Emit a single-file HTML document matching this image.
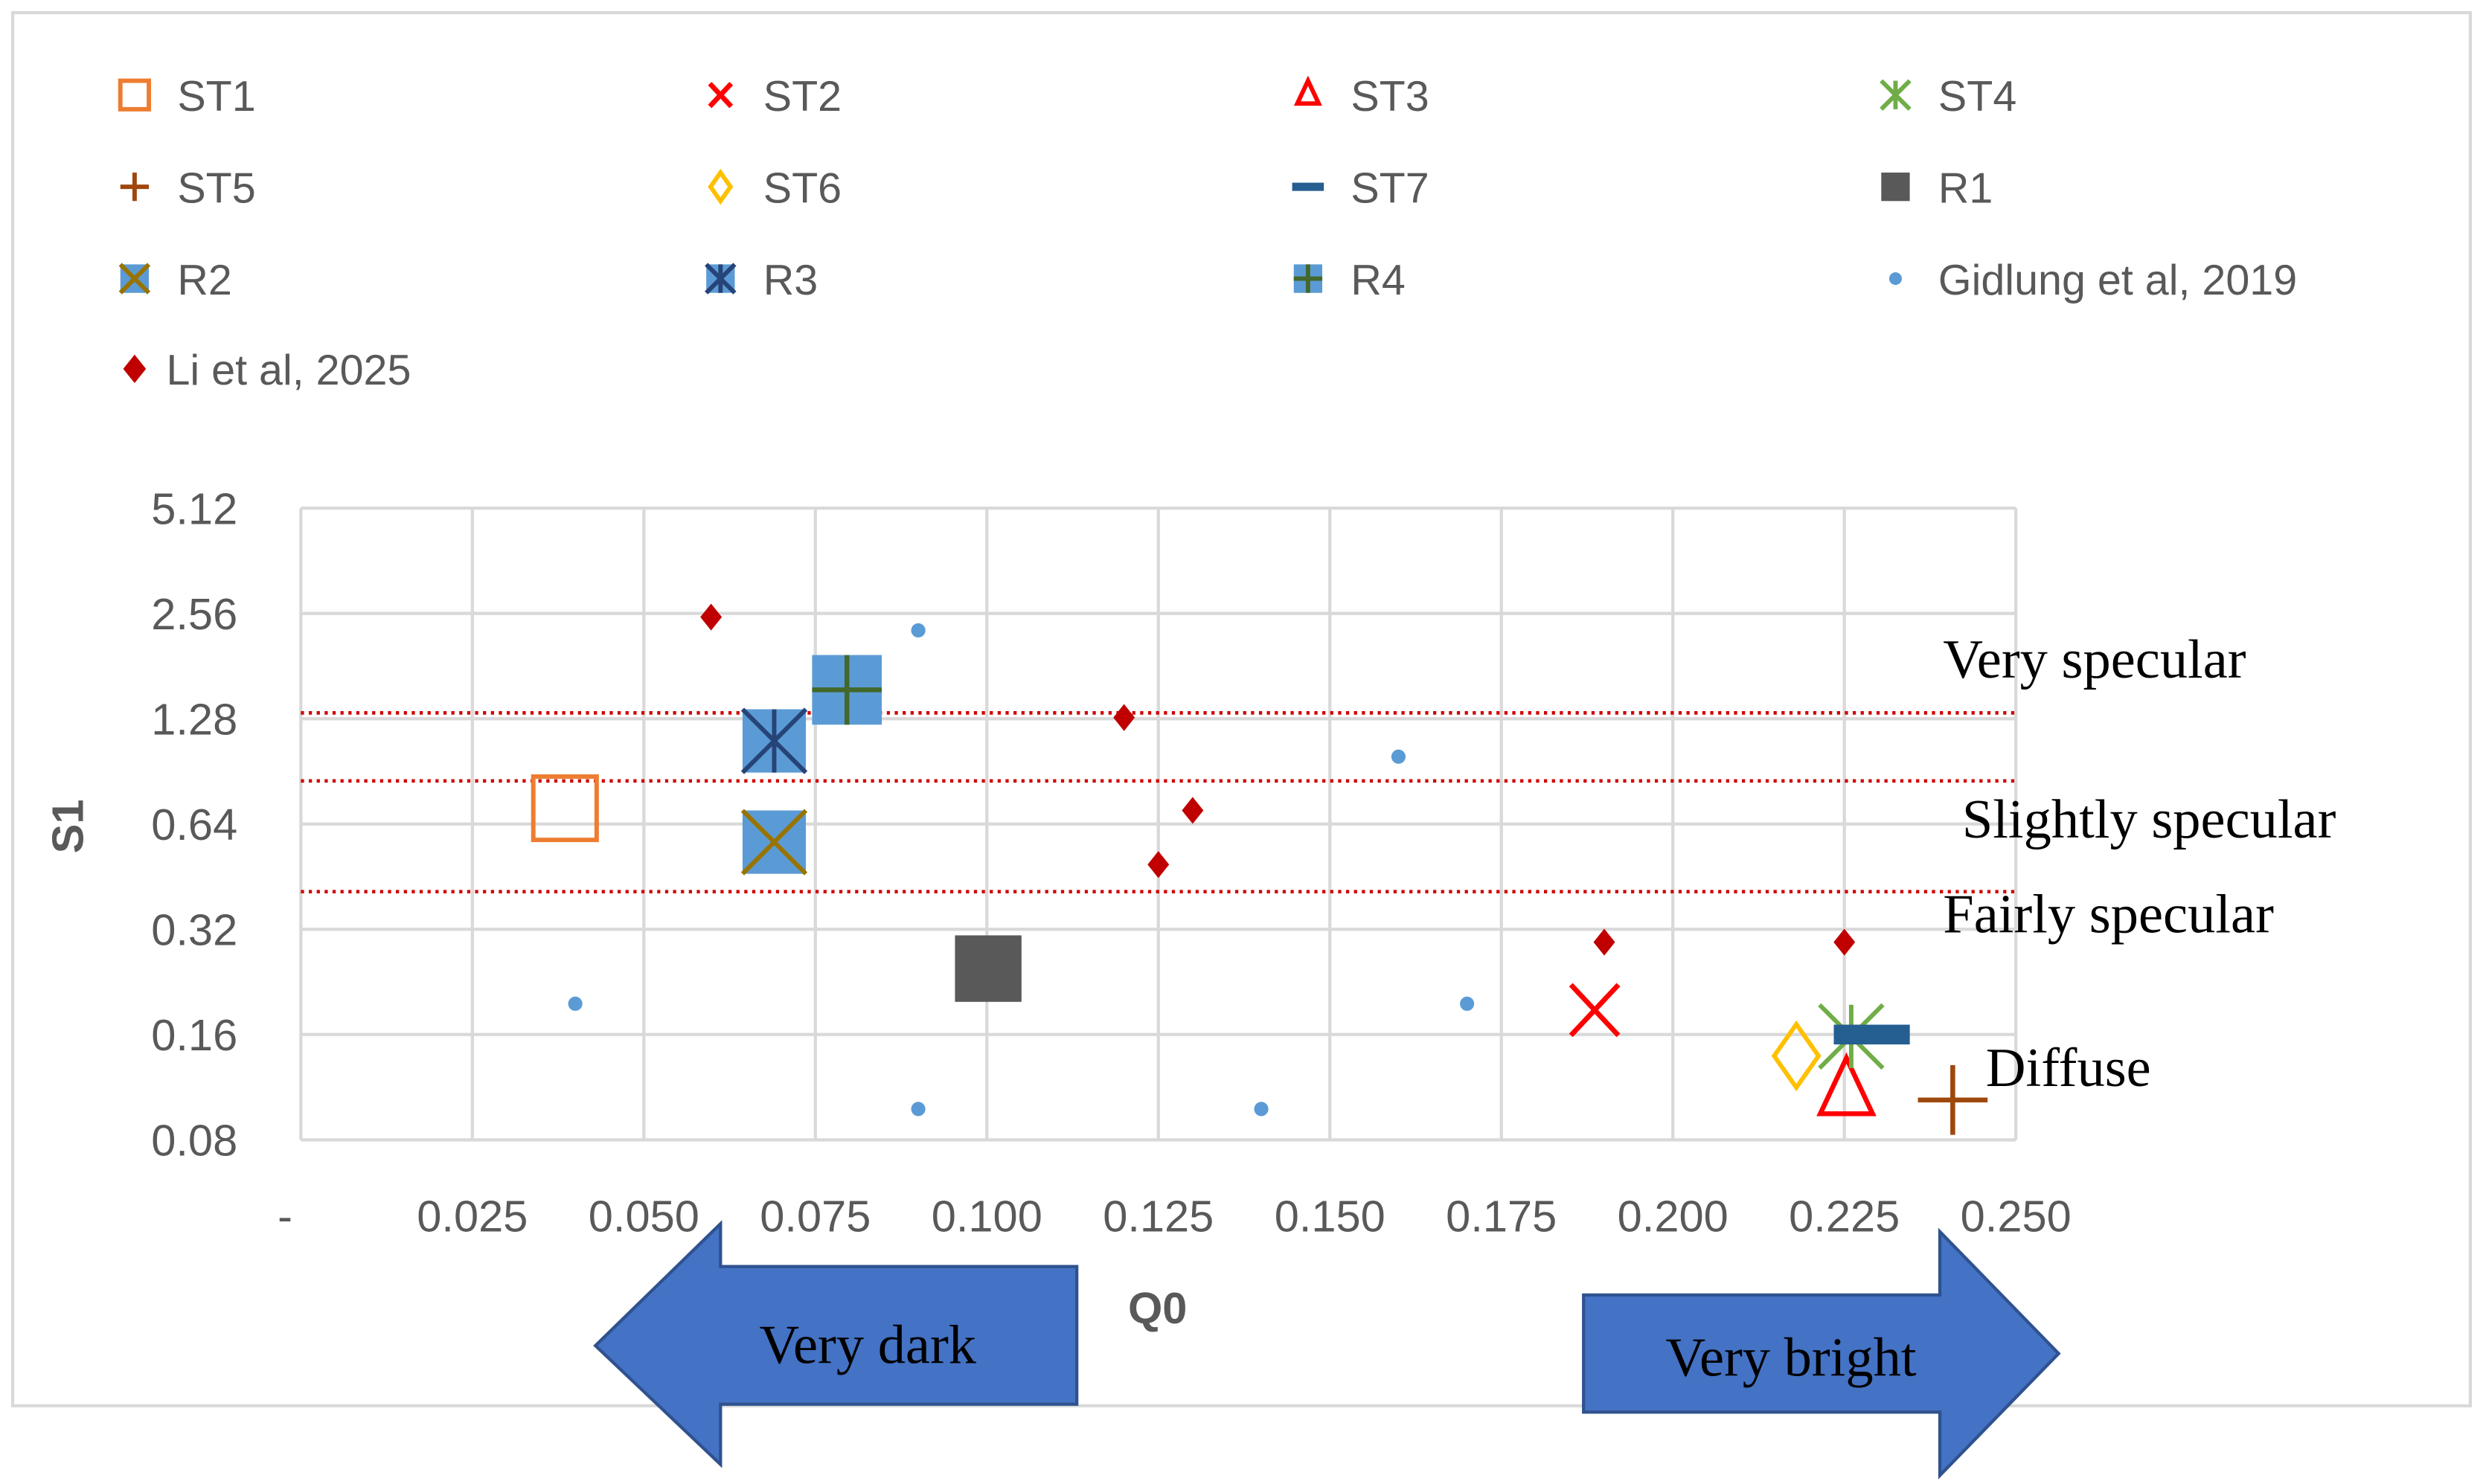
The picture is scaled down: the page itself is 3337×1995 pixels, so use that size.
<!DOCTYPE html>
<html><head><meta charset="utf-8">
<style>
html,body{margin:0;padding:0;background:#fff;}
svg{display:block;}
.tk{font-family:"Liberation Sans",sans-serif;font-size:28px;fill:#595959;}
.lg{font-family:"Liberation Sans",sans-serif;font-size:27px;fill:#595959;}
.ser{font-family:"Liberation Serif",serif;font-size:35px;fill:#000;}
</style></head>
<body>
<svg id="chart" width="3337" height="1995" viewBox="0 0 1568 937.4" preserveAspectRatio="none" xmlns="http://www.w3.org/2000/svg">
<rect x="8" y="8" width="1552" height="880" fill="#fff" stroke="#d9d9d9" stroke-width="2"/>
<g id="grid"></g>
<g id="refs"></g>
<g id="marks"></g>
<g id="legend"></g>
<text class="tk" x="45" y="522" transform="rotate(-90 45 522)" text-anchor="middle" dominant-baseline="middle" font-weight="bold">S1</text>
<text class="tk" x="731" y="836" text-anchor="middle" font-weight="bold">Q0</text>
<text class="ser" x="1227" y="428">Very specular</text>
<text class="ser" x="1239" y="529">Slightly specular</text>
<text class="ser" x="1227" y="589">Fairly specular</text>
<text class="ser" x="1254" y="686">Diffuse</text>
<g>
<polygon points="376,850 455,773 455,800 680,800 680,887 455,887 455,925" fill="#4472c4" stroke="#2f528f" stroke-width="2"/>
<text class="ser" x="548" y="861" text-anchor="middle">Very dark</text>
</g>
<g>
<polygon points="1000,818 1225,818 1225,778 1300,855 1225,932 1225,892 1000,892" fill="#4472c4" stroke="#2f528f" stroke-width="2"/>
<text class="ser" x="1131" y="869" text-anchor="middle">Very bright</text>
</g>
</svg>
<script>
const xTicks = [0,0.025,0.05,0.075,0.1,0.125,0.15,0.175,0.2,0.225,0.25];
const xTickLabels = ["-","0.025","0.050","0.075","0.100","0.125","0.150","0.175","0.200","0.225","0.250"];
const yTicks = [0.08,0.16,0.32,0.64,1.28,2.56,5.12];
const yTickLabels = ["0.08","0.16","0.32","0.64","1.28","2.56","5.12"];
const refLevels = [1.33,0.85,0.41];
const seriesNames = ["ST1","ST2","ST3","ST4","ST5","ST6","ST7","R1","R2","R3","R4","Gidlung et al, 2019","Li et al, 2025"];
const st1Q = [0.0385], st1S = [0.71];
const st2Q = [0.1886], st2S = [0.188];
const st3Q = [0.2253], st3S = [0.109];
const st4Q = [0.226], st4S = [0.158];
const st5Q = [0.2408], st5S = [0.104];
const st6Q = [0.218], st6S = [0.139];
const st7Q = [0.229], st7S = [0.16];
const r1Q = [0.1002], r1S = [0.247];
const r2Q = [0.069], r2S = [0.568];
const r3Q = [0.069], r3S = [1.106];
const r4Q = [0.0796], r4S = [1.548];
const gidQ = [0.04,0.09,0.09,0.14,0.16,0.17];
const gidS = [0.196,2.29,0.098,0.098,0.997,0.196];
const liQ = [0.0598,0.12,0.13,0.125,0.19,0.225];
const liS = [2.5,1.29,0.70,0.49,0.294,0.294];

const NS="http://www.w3.org/2000/svg";
const PL=190, PR=1273, PT=321, PB=720;
function xs(v){return PL+(v-0)/(0.25)*(PR-PL);}
function ys(v){return PB-(Math.log2(v/0.08)/6)*(PB-PT);}
function mk(tag,attrs,parent){const e=document.createElementNS(NS,tag);for(const k in attrs)e.setAttribute(k,attrs[k]);parent.appendChild(e);return e;}
const grid=document.getElementById('grid');
xTicks.forEach((t,i)=>{
  if(i>0){const l=mk('line',{x1:xs(t),x2:xs(t),y1:PT,y2:PB,stroke:'#d9d9d9','stroke-width':2},grid);
  
  }
  const tx=mk('text',{x:i==0?180:xs(t),y:778,'text-anchor':'middle',class:'tk'},grid);
  tx.textContent=xTickLabels[i];
  
  
});
yTicks.forEach((t,i)=>{
  const l=mk('line',{x1:PL,x2:PR,y1:ys(t),y2:ys(t),stroke:'#d9d9d9','stroke-width':2},grid);
  
  
  const tx=mk('text',{x:150,y:ys(t)+10,'text-anchor':'end',class:'tk'},grid);
  tx.textContent=yTickLabels[i];
  
  
});
mk('line',{x1:PL,x2:PL,y1:PT,y2:PB,stroke:'#d9d9d9','stroke-width':2},grid);
const refs=document.getElementById('refs');
refLevels.forEach(v=>{
  const l=mk('line',{x1:PL,x2:PR,y1:ys(v),y2:ys(v),stroke:'#d00000','stroke-width':2.2,'stroke-dasharray':'2 3'},refs);
  
  
});
function drawMarker(type,cx,cy,s,g,sw){
  const h=s/2; const w=sw||1;
  switch(type){
    case 'ST1': mk('rect',{x:cx-h,y:cy-h,width:s,height:s,fill:'none',stroke:'#ed7d31','stroke-width':s*0.07*w},g);break;
    case 'ST2': mk('path',{d:`M${cx-h*0.75},${cy-h*0.8}L${cx+h*0.75},${cy+h*0.8}M${cx+h*0.75},${cy-h*0.8}L${cx-h*0.75},${cy+h*0.8}`,stroke:'#ff0000','stroke-width':s*0.08*w,fill:'none'},g);break;
    case 'ST3': mk('polygon',{points:`${cx},${cy-h} ${cx+h*0.75},${cy+h*0.6} ${cx-h*0.75},${cy+h*0.6}`,fill:'none',stroke:'#ff0000','stroke-width':s*0.07*w},g);break;
    case 'ST4': mk('path',{d:`M${cx-h},${cy-h}L${cx+h},${cy+h}M${cx+h},${cy-h}L${cx-h},${cy+h}M${cx},${cy-h}L${cx},${cy+h}`,stroke:'#70ad47','stroke-width':s*0.07*w,fill:'none'},g);break;
    case 'ST5': mk('path',{d:`M${cx-h},${cy}L${cx+h},${cy}M${cx},${cy-h}L${cx},${cy+h}`,stroke:'#9e480e','stroke-width':s*0.07*w,fill:'none'},g);break;
    case 'ST6': mk('polygon',{points:`${cx},${cy-h} ${cx+h*0.7},${cy} ${cx},${cy+h} ${cx-h*0.7},${cy}`,fill:'none',stroke:'#ffc000','stroke-width':s*0.07*w},g);break;
    case 'ST7': mk('rect',{x:cx-h,y:cy-s*0.13,width:s,height:s*0.26,fill:'#255e91'},g);break;
    case 'R1': mk('rect',{x:cx-h,y:cy-h,width:s,height:s,fill:'#595959'},g);break;
    case 'R2': mk('rect',{x:cx-h,y:cy-h,width:s,height:s,fill:'#5b9bd5'},g);
      mk('path',{d:`M${cx-h},${cy-h}L${cx+h},${cy+h}M${cx+h},${cy-h}L${cx-h},${cy+h}`,stroke:'#997300','stroke-width':s*0.07*w},g);break;
    case 'R3': mk('rect',{x:cx-h,y:cy-h,width:s,height:s,fill:'#5b9bd5'},g);
      mk('path',{d:`M${cx-h},${cy-h}L${cx+h},${cy+h}M${cx+h},${cy-h}L${cx-h},${cy+h}M${cx},${cy-h}L${cx},${cy+h}`,stroke:'#264478','stroke-width':s*0.07*w},g);break;
    case 'R4': mk('rect',{x:cx-h,y:cy-h,width:s,height:s,fill:'#5b9bd5'},g);
      mk('path',{d:`M${cx-h},${cy}L${cx+h},${cy}M${cx},${cy-h}L${cx},${cy+h}`,stroke:'#43682b','stroke-width':s*0.07*w},g);break;
    case 'GID': mk('circle',{cx:cx,cy:cy,r:s/2,fill:'#5b9bd5'},g);break;
    case 'LI': mk('polygon',{points:`${cx},${cy-h} ${cx+h*0.8},${cy} ${cx},${cy+h} ${cx-h*0.8},${cy}`,fill:'#c00000'},g);break;
  }
}
const marks=document.getElementById('marks');
const series=[
 ['ST1',st1Q,st1S,40],['ST2',st2Q,st2S,40],['ST3',st3Q,st3S,44],['ST4',st4Q,st4S,40],
 ['ST5',st5Q,st5S,44],['ST6',st6Q,st6S,40],['ST7',st7Q,st7S,48],['R1',r1Q,r1S,42],
 ['R2',r2Q,r2S,40],['R3',r3Q,r3S,40],['R4',r4Q,r4S,44],['GID',gidQ,gidS,9],['LI',liQ,liS,17]];
series.forEach(([t,q,s,sz])=>{
  q.forEach((v,i)=>{
    const g=mk('g',{},marks);
    
    
    drawMarker(t,xs(v),ys(s[i]),sz,g,1);
  });
});
const legend=document.getElementById('legend');
const legTypes=['ST1','ST2','ST3','ST4','ST5','ST6','ST7','R1','R2','R3','R4','GID','LI'];
const colX=[85,455,826,1197], rowY=[60,118,176,233];
legTypes.forEach((t,i)=>{
  const c=i%4, r=Math.floor(i/4);
  const g=mk('g',{},legend);
  
  
  let sz=18; if(t==='GID') sz=8; if(t==='ST7') sz=20;
  drawMarker(t,colX[c],rowY[r],sz,g,2.2);
  const tx=mk('text',{x:colX[c]+(t==='LI'?20:27),y:rowY[r]+10,class:'lg'},g);
  tx.textContent=seriesNames[i];
});
</script>
</body></html>
